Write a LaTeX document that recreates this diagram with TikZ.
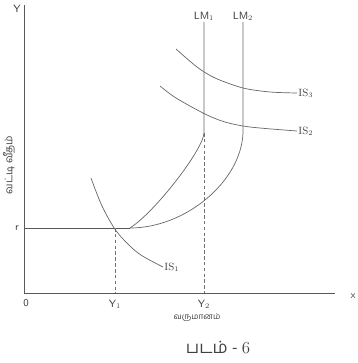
\documentclass[tikz,border=0pt]{standalone}
\usepackage{fontspec}
\newfontfamily\tamil[Script=Tamil]{Hind Madurai}
\usetikzlibrary{arrows}

\begin{document}
\begin{tikzpicture}[x=0.03cm, y=-0.03cm, line width=0.5pt, draw=black!65,
    curve/.style={line width=0.6pt, draw=black!60},
    guide/.style={dashed, draw=black!55, dash pattern=on 3pt off 2pt},
    lbl/.style={text=black!75, font=\sffamily\small, inner sep=1pt}]
  \useasboundingbox (0,0) rectangle (357,363);

  \coordinate (O) at (24,293);
  \coordinate (Ytop) at (24,5);
  \coordinate (Xend) at (335,293);
  \coordinate (r) at (24,228);
  \coordinate (K) at (130,228);
  \coordinate (A1) at (115,228);
  \coordinate (A1b) at (115,293);
  \coordinate (LMa) at (204,133);
  \coordinate (LMaTop) at (204,22);
  \coordinate (LMb) at (243,133);
  \coordinate (LMbTop) at (243,22);
  \coordinate (A2b) at (204,293);

  % assi
  \draw (Ytop) -- (O) -- (Xend);
  \draw (r) -- (K);
  \draw[guide] (A1) -- (A1b);
  \draw[guide] (LMa) -- (A2b);

  \draw[curve] (K) .. controls (155,212) and (203,150) .. (LMa) -- (LMaTop);
  \draw[curve] (K) .. controls (185,228) and (241,182) .. (LMb) -- (LMbTop);

  \draw[curve] plot[smooth] coordinates {(91,178) (102,206) (117,232) (138,253) (163,267)} coordinate (IS1e);
  \draw[curve] plot[smooth] coordinates {(160,86) (176,98) (205,114) (225,122) (250,127) (297,131)} coordinate (IS2e);
  \draw[curve] plot[smooth] coordinates {(176,49) (197,67) (215,78) (243,88) (270,92) (297,93)} coordinate (IS3e);

  \node[lbl] (ylab) at (17,9) {Y};
  \node[lbl] (xlab) at (353,296) {x};
  \node[lbl] (zero) at (26,303) {0};
  \node[lbl] (rlab) at (17,228) {r};
  \node[lbl] (y1) at (115,304) {Y$_1$};
  \node[lbl] (y2) at (204,304) {Y$_2$};
  \node[lbl, anchor=south] (lm1) at (LMaTop) {LM$_1$};
  \node[lbl, anchor=south] (lm2) at (LMbTop) {LM$_2$};
  \node[lbl, font=\rmfamily\small, anchor=west] (is1) at (IS1e) {IS$_1$};
  \node[lbl, font=\rmfamily\small, anchor=west] (is2) at (IS2e) {IS$_2$};
  \node[lbl, font=\rmfamily\small, anchor=west] (is3) at (IS3e) {IS$_3$};

  \node[lbl, font=\tamil\scriptsize] (xname) at (197,318) {வருமானம்};
  \node[lbl, font=\tamil\small, rotate=90] (yname) at (9,165) {வட்டி வீதம்};
  \node[lbl, font=\tamil\Large] (cap) at (218,348) {படம் - {\rmfamily 6}}; % didascalia
\end{tikzpicture}
\end{document}
